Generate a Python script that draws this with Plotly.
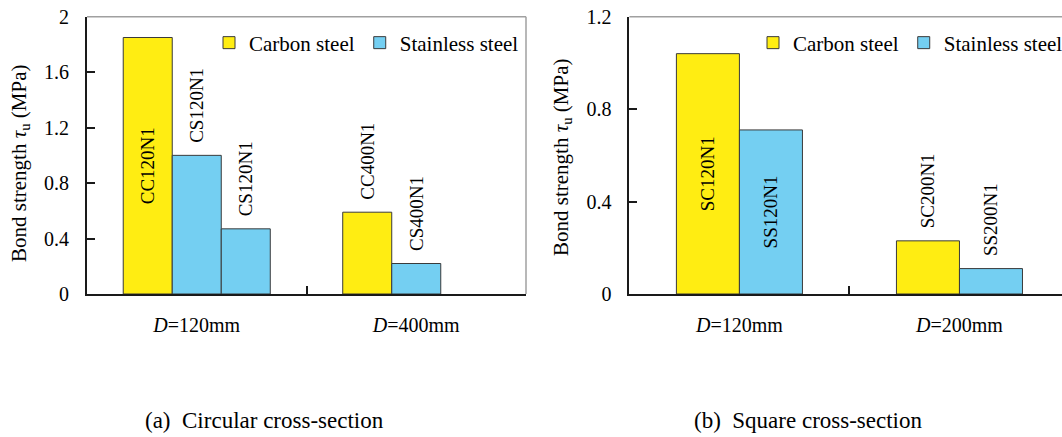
import plotly.graph_objects as go

# ---------------- data ----------------
cats_a = ["D=120mm", "D=400mm"]
ticktext_a = ["<i>D</i>=120mm", "<i>D</i>=400mm"]
carbon_a = [1.85, 0.59]
stainless_a = [1.00, 0.22]
stainless2_a = [0.47, None]
lab_carbon_a = ["CC120N1", "CC400N1"]
lab_stainless_a = ["CS120N1", "CS400N1"]
lab_stainless2_a = ["CS120N1", ""]

cats_b = ["D=120mm", "D=200mm"]
ticktext_b = ["<i>D</i>=120mm", "<i>D</i>=200mm"]
carbon_b = [1.04, 0.23]
stainless_b = [0.71, 0.11]
lab_carbon_b = ["SC120N1", "SC200N1"]
lab_stainless_b = ["SS120N1", "SS200N1"]

yticks_a = [0, 0.4, 0.8, 1.2, 1.6, 2]
yticks_b = [0, 0.4, 0.8, 1.2]

# ---------------- style ----------------
FONT = "Liberation Serif, Times New Roman, DejaVu Serif, serif"
YELLOW = "#FFED12"
BLUE = "#74CFF2"
EDGE = "#3a3a3a"
PAD = "\u00a0\u00a0"

fig = go.Figure()

common = dict(textangle=-90, constraintext="none", cliponaxis=False,
              textfont=dict(family=FONT, size=19, color="black"),
              insidetextanchor="middle", hoverinfo="skip")

# Left subplot (a)
fig.add_trace(go.Bar(x=cats_a, y=carbon_a, name="Carbon steel",
                     marker=dict(color=YELLOW, line=dict(color=EDGE, width=1)),
                     text=[lab_carbon_a[0], PAD + lab_carbon_a[1]],
                     textposition=["inside", "outside"],
                     xaxis="x", yaxis="y", legend="legend", **common))
fig.add_trace(go.Bar(x=cats_a, y=stainless_a, name="Stainless steel",
                     marker=dict(color=BLUE, line=dict(color=EDGE, width=1)),
                     text=[PAD + t for t in lab_stainless_a],
                     textposition=["outside", "outside"],
                     xaxis="x", yaxis="y", legend="legend", **common))
fig.add_trace(go.Bar(x=cats_a, y=stainless2_a, name="Stainless steel",
                     marker=dict(color=BLUE, line=dict(color=EDGE, width=1)),
                     text=[PAD + lab_stainless2_a[0], " "],
                     textposition=["outside", "none"], showlegend=False,
                     xaxis="x", yaxis="y", **common))

# Right subplot (b)
W_B = 0.2864
fig.add_trace(go.Bar(x=cats_b, y=carbon_b, name="Carbon steel",
                     width=W_B, offset=-W_B,
                     marker=dict(color=YELLOW, line=dict(color=EDGE, width=1)),
                     text=[lab_carbon_b[0], PAD + lab_carbon_b[1]],
                     textposition=["inside", "outside"],
                     xaxis="x2", yaxis="y2", legend="legend2", **common))
fig.add_trace(go.Bar(x=cats_b, y=stainless_b, name="Stainless steel",
                     width=W_B, offset=0,
                     marker=dict(color=BLUE, line=dict(color=EDGE, width=1)),
                     text=[lab_stainless_b[0], PAD + lab_stainless_b[1]],
                     textposition=["inside", "outside"],
                     xaxis="x2", yaxis="y2", legend="legend2", **common))

W, H = 1062, 437
ydom = [1 - 294 / H, 1 - 16.7 / H]

xax_common = dict(type="category", showline=True, linecolor="#1a1a1a", linewidth=2,
                  ticks="inside", ticklen=8, tickwidth=2, tickcolor="#1a1a1a",
                  tickson="boundaries", showgrid=False, zeroline=False,
                  tickfont=dict(family=FONT, size=20, color="black"),
                  ticklabelstandoff=12, fixedrange=True)
yax_common = dict(showline=True, linecolor="#1a1a1a", linewidth=2,
                  ticks="inside", ticklen=8, tickwidth=1.5, tickcolor="#1a1a1a",
                  showgrid=False, zeroline=False,
                  tickfont=dict(family=FONT, size=20, color="black"),
                  ticklabelstandoff=12, fixedrange=True)

legend_common = dict(orientation="h", xanchor="left", yanchor="middle",
                     bgcolor="rgba(0,0,0,0)",
                     font=dict(family=FONT, size=21, color="black"),
                     itemclick=False, itemdoubleclick=False, tracegroupgap=0)

fig.update_layout(
    width=W, height=H,
    margin=dict(l=0, r=0, t=0, b=0, autoexpand=False),
    paper_bgcolor="white", plot_bgcolor="white",
    barmode="group", bargap=0.33, bargroupgap=0,
    font=dict(family=FONT, color="black"),
    xaxis=dict(domain=[87 / W, 526 / W], anchor="y", range=[-0.5, 1.5],
               tickvals=cats_a, ticktext=ticktext_a, **xax_common),
    yaxis=dict(domain=ydom, anchor="x", range=[0, 2], tickvals=yticks_a,
               ticktext=["0", "0.4", "0.8", "1.2", "1.6", "2"], **yax_common),
    xaxis2=dict(domain=[629.4 / W, 1], anchor="y2", range=[-0.5, 1.466],
                tickvals=cats_b, ticktext=ticktext_b, **xax_common),
    yaxis2=dict(domain=ydom, anchor="x2", range=[0, 1.2], tickvals=yticks_b,
                ticktext=["0", "0.4", "0.8", "1.2"], **yax_common),
    legend=dict(x=209 / W, y=1 - 43 / H, **legend_common),
    legend2=dict(x=753 / W, y=1 - 43 / H, **legend_common),
    showlegend=True,
)

# gray top/right frame lines
GRAY = "#a0a0a0"
for xr, yr in (("x domain", "y domain"), ("x2 domain", "y2 domain")):
    fig.add_shape(type="line", xref=xr, yref=yr, x0=0, x1=1, y0=1, y1=1,
                  line=dict(color=GRAY, width=1.5))
fig.add_shape(type="line", xref="x domain", yref="y domain", x0=1, x1=1, y0=0, y1=1,
              line=dict(color=GRAY, width=1.5))

# axis titles and captions
ytitle = "Bond strength <i>τ</i><sub>u</sub> (MPa)"
fig.add_annotation(text=ytitle, textangle=-90, x=20 / W, y=1 - 164 / H, xref="paper", yref="paper",
                   xanchor="center", yanchor="middle",
                   showarrow=False, font=dict(family=FONT, size=21, color="black"))
fig.add_annotation(text=ytitle, textangle=-90, x=562 / W, y=1 - 158 / H, xref="paper", yref="paper",
                   xanchor="center", yanchor="middle",
                   showarrow=False, font=dict(family=FONT, size=21, color="black"))
fig.add_annotation(text="(a)\u00a0\u00a0Circular cross-section", x=264.5 / W, y=1 - 420 / H,
                   xref="paper", yref="paper", showarrow=False, xanchor="center", yanchor="middle",
                   font=dict(family=FONT, size=23, color="black"))
fig.add_annotation(text="(b)\u00a0\u00a0Square cross-section", x=808 / W, y=1 - 420 / H,
                   xref="paper", yref="paper", showarrow=False, xanchor="center", yanchor="middle",
                   font=dict(family=FONT, size=23, color="black"))

fig.write_html("out.html", config={"displayModeBar": False})
